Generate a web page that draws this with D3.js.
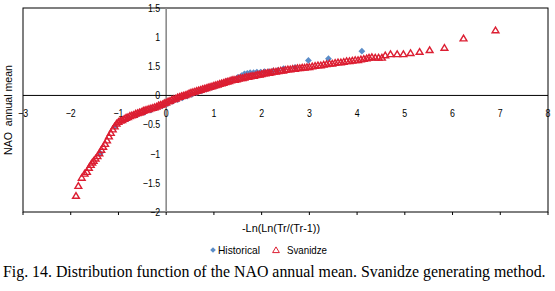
<!DOCTYPE html>
<html>
<head>
<meta charset="utf-8">
<script src="https://cdn.jsdelivr.net/npm/d3@7"></script>
<style>
  body { margin: 0; background: #fff; }
  svg { display: block; }
</style>
</head>
<body>
<svg id="chart" width="555" height="291"></svg>
<script>
// values
const svanidzeX = [-1.89,-1.84,-1.77,-1.71,-1.66,-1.62,-1.58,-1.55,
  -1.52,-1.48,-1.44,-1.40,-1.36,-1.32,-1.28,-1.24,-1.20,-1.16,-1.12,-1.08,-1.04,-1.00,
  -0.96,-0.92,-0.88,-0.84,-0.80,-0.76,-0.72,-0.68,-0.64,-0.60,-0.56,-0.52,-0.48,-0.44,-0.40,-0.36,-0.32,-0.28,-0.24,-0.20,-0.16,-0.12,-0.08,-0.04,
  0.00,0.04,0.08,0.12,0.16,0.20,0.24,0.28,0.32,0.36,0.40,0.44,0.48,0.52,0.56,0.60,0.64,0.68,0.72,0.76,0.80,0.84,0.88,0.92,0.96,
  1.00,1.04,1.08,1.12,1.16,1.20,1.24,1.28,1.32,1.36,1.40,1.44,1.48,1.52,1.56,1.60,1.64,1.68,1.72,1.76,1.80,1.84,1.88,1.92,1.96,
  2.00,2.04,2.08,2.12,2.16,2.20,2.25,2.30,2.35,2.40,2.45,2.50,2.55,2.60,2.65,2.70,2.75,2.80,2.85,2.90,2.95,
  3.00,3.06,3.12,3.18,3.24,3.30,3.36,3.42,3.48,3.54,3.60,3.66,3.72,3.78,3.84,3.90,3.96,
  4.02,4.08,4.14,4.20,4.25,4.31,4.38,4.45,4.52,4.59,4.70,4.84,4.97,5.12,5.31,5.52,5.83,6.23,6.90];
const svanidzeY = [-1.72,-1.55,-1.41,-1.34,-1.31,-1.24,-1.19,-1.15,
  -1.12,-1.08,-1.04,-0.99,-0.93,-0.88,-0.83,-0.77,-0.70,-0.64,-0.58,-0.53,-0.48,-0.45,
  -0.43,-0.42,-0.40,-0.38,-0.37,-0.35,-0.34,-0.33,-0.31,-0.30,-0.29,-0.28,-0.26,-0.25,-0.24,-0.23,-0.22,-0.21,-0.20,-0.19,-0.17,-0.16,-0.15,-0.13,
  -0.12,-0.10,-0.09,-0.07,-0.06,-0.05,-0.03,-0.02,-0.01,0.00,0.01,0.02,0.04,0.05,0.06,0.07,0.08,0.09,0.10,0.11,0.12,0.13,0.14,0.15,0.16,
  0.17,0.18,0.19,0.20,0.21,0.22,0.23,0.24,0.25,0.26,0.27,0.27,0.28,0.29,0.30,0.30,0.31,0.32,0.32,0.33,0.34,0.34,0.35,0.36,0.36,
  0.37,0.38,0.38,0.39,0.39,0.40,0.41,0.41,0.42,0.43,0.43,0.44,0.45,0.45,0.46,0.46,0.47,0.47,0.48,0.48,0.49,
  0.49,0.50,0.51,0.52,0.52,0.53,0.54,0.55,0.55,0.56,0.57,0.57,0.58,0.59,0.59,0.60,0.61,
  0.61,0.62,0.63,0.64,0.65,0.66,0.65,0.65,0.65,0.69,0.71,0.71,0.71,0.73,0.75,0.78,0.82,0.98,1.12];

const historicalX = [-1.38,-1.07,-0.80,-0.60,-0.45,-0.32,-0.20,-0.08,0.03,0.14,0.24,0.34,0.44,0.54,0.64,0.74,0.84,0.95,
  1.05,1.16,1.27,1.38,1.50,1.58,1.64,1.70,1.76,1.83,1.90,1.98,2.06,2.15,2.24,2.34,2.46,2.70,2.98,3.40,4.10];
const historicalY = [-0.99,-0.53,-0.40,-0.33,-0.29,-0.25,-0.21,-0.18,-0.14,-0.10,-0.07,-0.04,-0.01,0.02,0.05,0.08,0.11,0.14,
  0.17,0.20,0.24,0.27,0.31,0.34,0.37,0.38,0.39,0.39,0.40,0.40,0.41,0.41,0.42,0.43,0.46,0.48,0.60,0.63,0.76];

const xTicks = [-3,-2,-1,0,1,2,3,4,5,6,7,8];
const xTickLabels = ["\u22123","\u22122","\u22121","0","1","2","3","4","5","6","7","8"];
const yTicks = [-2,-1.5,-1,-0.5,0,0.5,1,1.5];
const yTickLabels = ["\u22122","\u22121.5","\u22121","\u22120.5","0","1.5","1","1.5"];

const svg = d3.select("#chart");
const m = { top: 8, right: 7, bottom: 79, left: 23 };
const width = +svg.attr("width");
const height = +svg.attr("height");

const x = d3.scaleLinear()
    .domain([-3, 8])
    .range([m.left, width - m.right]);
const y = d3.scaleLinear()
    .domain([-2, 1.5])
    .range([height - m.bottom, m.top]);

const blue = "#5b8dc8";
const red = "#dc1e32";
const sans = "'Liberation Sans', Arial, sans-serif";

// squeezed text, the picture is narrower than its fonts
function label(sx, px, py, str, anchor, size) {
  return svg.append("text")
    .attr("transform", `translate(${px},${py}) scale(${sx},1)`)
    .attr("text-anchor", anchor)
    .attr("font-family", sans)
    .attr("font-size", size)
    .attr("fill", "#000")
    .text(str);
}

// frame
svg.append("rect")
    .attr("x", x(-3)).attr("y", y(1.5))
    .attr("width", x(8) - x(-3)).attr("height", y(-2) - y(1.5))
    .attr("fill", "none").attr("stroke", "#000").attr("stroke-width", 1);

// bottom ticks
svg.append("g")
  .selectAll("line")
  .data(xTicks)
  .join("line")
    .attr("x1", d => x(d)).attr("x2", d => x(d))
    .attr("y1", y(-2)).attr("y2", y(-2) + 3)
    .attr("stroke", "#000");

// zero lines
svg.append("line")
    .attr("x1", x(0)).attr("x2", x(0))
    .attr("y1", y(1.5)).attr("y2", y(-2))
    .attr("stroke", "#8c8c8c").attr("stroke-width", 1.6);
svg.append("line")
    .attr("x1", x(-3)).attr("x2", x(8))
    .attr("y1", y(0)).attr("y2", y(0))
    .attr("stroke", "#000").attr("stroke-width", 1);

// tick labels
xTicks.forEach((t, i) => label(0.84, x(t), y(0) + 22, xTickLabels[i], "middle", 10.5));
yTicks.forEach((t, i) => label(0.84, x(0) - 6, y(t) + 3.8, yTickLabels[i], "end", 10.5));

const diamond = "M0,-3.4L3.4,0L0,3.4L-3.4,0Z";
const triangle = "M0,-3.1L3.4,2.6L-3.4,2.6Z";

svg.append("g")
  .selectAll("path")
  .data(d3.zip(historicalX, historicalY))
  .join("path")
    .attr("d", diamond)
    .attr("transform", d => `translate(${x(d[0])},${y(d[1])})`)
    .attr("fill", blue);

svg.append("g")
  .selectAll("path")
  .data(d3.zip(svanidzeX, svanidzeY))
  .join("path")
    .attr("d", triangle)
    .attr("transform", d => `translate(${x(d[0])},${y(d[1])})`)
    .attr("fill", "none")
    .attr("stroke", red)
    .attr("stroke-width", 1.4);

// axis titles
svg.append("text")
    .attr("x", 281).attr("y", 232)
    .attr("text-anchor", "middle")
    .attr("font-family", sans).attr("font-size", 10.5)
    .attr("textLength", 78).attr("lengthAdjust", "spacingAndGlyphs")
    .text("-Ln(Ln(Tr/(Tr-1))");

svg.append("text")
    .attr("transform", "translate(11.5,110) rotate(-90)")
    .attr("text-anchor", "middle")
    .attr("font-family", sans).attr("font-size", 11)
    .attr("textLength", 90).attr("lengthAdjust", "spacingAndGlyphs")
    .text("NAO\u00a0 annual mean");

// legend
svg.append("path")
    .attr("d", "M0,-2.8L2.8,0L0,2.8L-2.8,0Z")
    .attr("transform", "translate(213,250)")
    .attr("fill", blue);
svg.append("text")
    .attr("x", 218).attr("y", 253.5)
    .attr("font-family", sans).attr("font-size", 10.5)
    .attr("textLength", 42).attr("lengthAdjust", "spacingAndGlyphs")
    .text("Historical");
svg.append("path")
    .attr("d", triangle)
    .attr("transform", "translate(276,250)")
    .attr("fill", "none").attr("stroke", red);
svg.append("text")
    .attr("x", 287).attr("y", 253.5)
    .attr("font-family", sans).attr("font-size", 10.5)
    .attr("textLength", 40).attr("lengthAdjust", "spacingAndGlyphs")
    .text("Svanidze");

// caption, squeezed to the picture's width
const caption = svg.append("text")
    .attr("font-family", "'Liberation Serif', 'Times New Roman', serif")
    .attr("font-size", 17)
    .text("Fig. 14. Distribution function of the NAO annual mean. Svanidze generating method.");
const capLen = caption.node().getComputedTextLength();
caption.attr("transform", `translate(3,277) scale(${543 / capLen},1)`);
</script>
</body>
</html>
